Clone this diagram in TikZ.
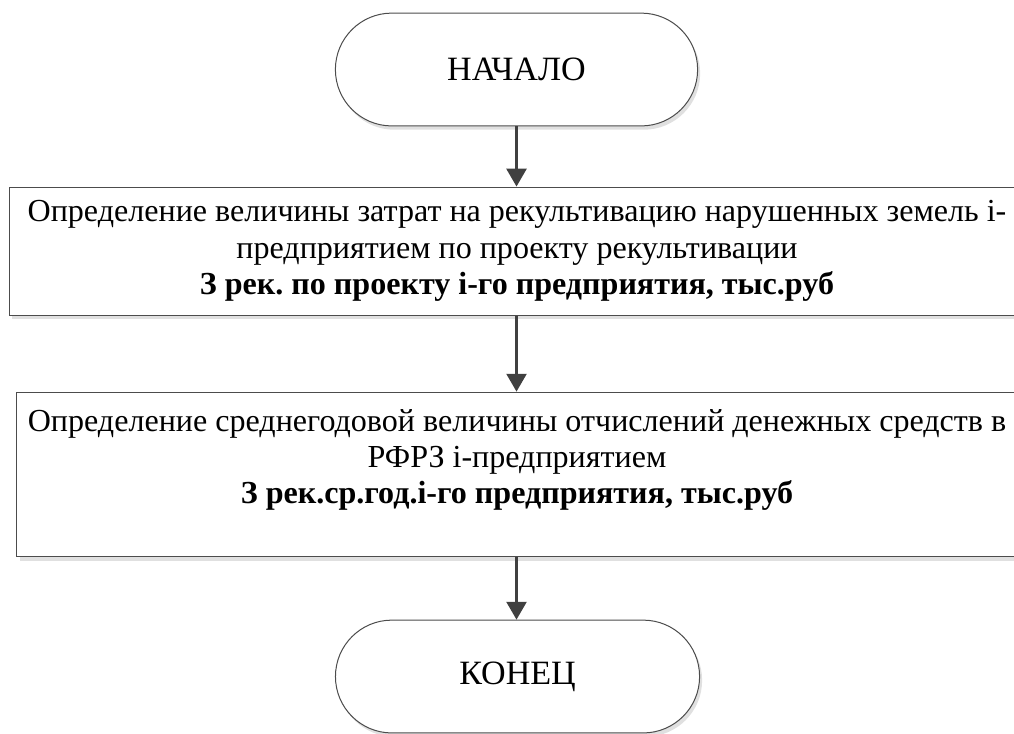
\documentclass[tikz,border=0pt]{standalone}
\usepackage{fontspec}
\setmainfont{Liberation Serif}
\usetikzlibrary{arrows.meta,shapes.misc,shadows}

\begin{document}
\begin{tikzpicture}[
  term/.style={rounded rectangle,draw=black!70,line width=0.45pt,fill=white,
    minimum width=5.950cm,minimum height=1.780cm,
    drop shadow={shadow xshift=0.04cm,shadow yshift=-0.06cm,fill=black!12,opacity=1},
    font=\fontsize{15.3pt}{17pt}\selectfont},
  stepbox/.style={rectangle,draw=black!70,line width=0.45pt,fill=white,align=center,inner sep=0pt,
    drop shadow={shadow xshift=0.04cm,shadow yshift=-0.06cm,fill=black!12,opacity=1},
    font=\frenchspacing\fontsize{14.4pt}{16.3pt}\selectfont},
  flow/.style={draw=black!75,line width=1pt,-{Triangle[width=9pt,length=8pt]}}
]
\clip (0.000,0.000) rectangle (16.000,-11.567);
\node[term] (nachalo) at (8.150,-1.097) {НАЧАЛО};
\node[stepbox,minimum width=16.030cm,minimum height=2.020cm] (zatraty) at (8.158,-3.961)
  {Определение величины затрат на рекультивацию нарушенных земель i-\\
   предприятием по проекту рекультивации\\
   \textbf{З рек. по проекту i-го предприятия, тыс.руб}};
\node[stepbox,minimum width=15.780cm,minimum height=2.600cm] (otchisl) at (8.158,-7.487)
  {Определение среднегодовой величины отчислений денежных средств в\\
   РФРЗ i-предприятием\\
   \textbf{З рек.ср.год.i-го предприятия, тыс.руб}\\
   \mbox{}};
\node[term,minimum width=5.980cm] (konec) at (8.166,-10.675) {КОНЕЦ};
\draw[flow] (nachalo.south) -- (nachalo.south |- zatraty.north);
\draw[flow] (nachalo.south |- zatraty.south) -- (nachalo.south |- otchisl.north);
\draw[flow] (nachalo.south |- otchisl.south) -- (nachalo.south |- konec.north);
\end{tikzpicture}
\end{document}
